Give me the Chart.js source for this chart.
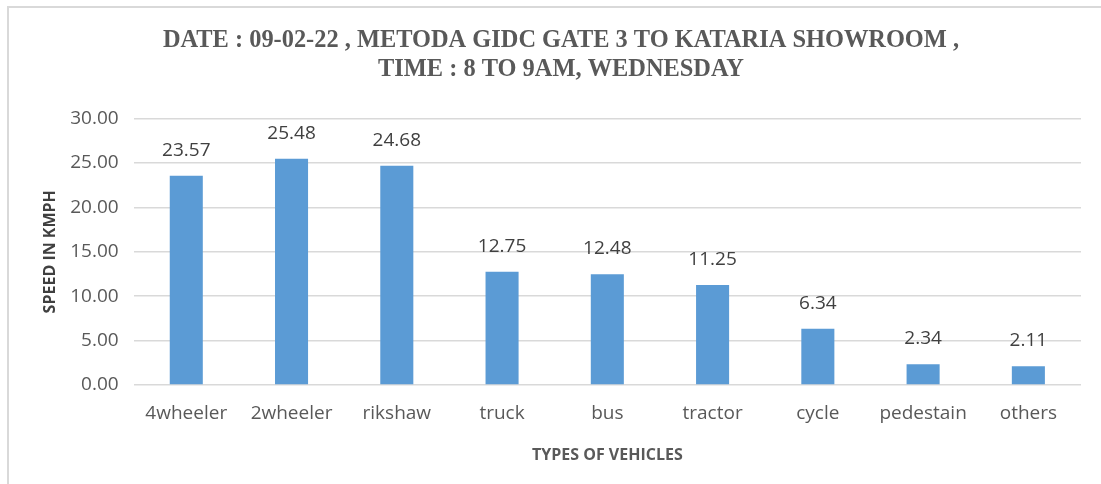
<!DOCTYPE html>
<html>
<head>
<meta charset="utf-8">
<script src="https://cdn.jsdelivr.net/npm/chart.js@4"></script>
<style>
  html, body { margin: 0; padding: 0; background: #fff; }
  #wrap { position: relative; width: 1101px; height: 484px; overflow: hidden; }
  #frame { position: absolute; left: 7px; top: 6px; width: 1200px; height: 600px;
           border-left: 2px solid #d9d9d9; border-top: 2px solid #d9d9d9; }
  canvas { position: absolute; left: 0; top: 0; }
</style>
</head>
<body>
<div id="wrap">
  <div id="frame"></div>
  <canvas id="speedChart" width="1101" height="484"></canvas>
</div>
<script>
const vehicles = ['4wheeler', '2wheeler', 'rikshaw', 'truck', 'bus', 'tractor', 'cycle', 'pedestain', 'others'];
const speeds = [23.57, 25.48, 24.68, 12.75, 12.48, 11.25, 6.34, 2.34, 2.11];
const titleLines = ['DATE : 09-02-22 , METODA GIDC GATE 3 TO KATARIA SHOWROOM ,', 'TIME : 8 TO 9AM, WEDNESDAY'];

// labels on top of the bars
const valueLabels = {
  id: 'valueLabels',
  afterDatasetsDraw(chart) {
    const c = chart.ctx;
    const meta = chart.getDatasetMeta(0);
    c.save();
    c.font = '19px "Open Sans"';
    c.fillStyle = '#404040';
    c.textAlign = 'center';
    c.textBaseline = 'bottom';
    meta.data.forEach((bar, i) => {
      c.fillText(speeds[i].toFixed(2), bar.x, bar.y - 16);
    });
    c.restore();
  }
};

const ctx = document.getElementById('speedChart').getContext('2d');
new Chart(ctx, {
  type: 'bar',
  data: {
    labels: vehicles,
    datasets: [{
      data: speeds,
      backgroundColor: '#5b9bd5',
      categoryPercentage: 1,
      barPercentage: 0.314
    }]
  },
  options: {
    responsive: false,
    animation: false,
    layout: { padding: { left: 41, right: 20, top: 26, bottom: 19 } },
    plugins: {
      legend: { display: false },
      tooltip: { enabled: false },
      title: {
        display: true,
        text: titleLines,
        color: '#595959',
        font: { family: '"Liberation Serif"', size: 24.4, weight: 'bold', lineHeight: 1.2 },
        padding: { top: 0, bottom: 34 }
      }
    },
    scales: {
      x: {
        grid: { display: false, drawTicks: false },
        border: { display: false },
        ticks: { color: '#595959', font: { family: '"Open Sans"', size: 19 }, padding: 17 },
        title: {
          display: true,
          text: 'TYPES OF VEHICLES',
          color: '#595959',
          font: { family: '"Open Sans"', size: 16, weight: 'bold' },
          padding: { top: 4, bottom: 0 }
        }
      },
      y: {
        min: 0,
        max: 30,
        ticks: {
          stepSize: 5,
          color: '#595959',
          font: { family: '"Open Sans"', size: 19 },
          padding: 15,
          callback: v => v.toFixed(2)
        },
        grid: { color: '#d9d9d9', lineWidth: 1.5, drawTicks: false },
        border: { display: false },
        title: {
          display: true,
          text: 'SPEED IN KMPH',
          color: '#404040',
          font: { family: '"Open Sans"', size: 16, weight: 'bold' },
          padding: { top: 0, bottom: -5 }
        }
      }
    }
  },
  plugins: [valueLabels]
});
</script>
</body>
</html>
